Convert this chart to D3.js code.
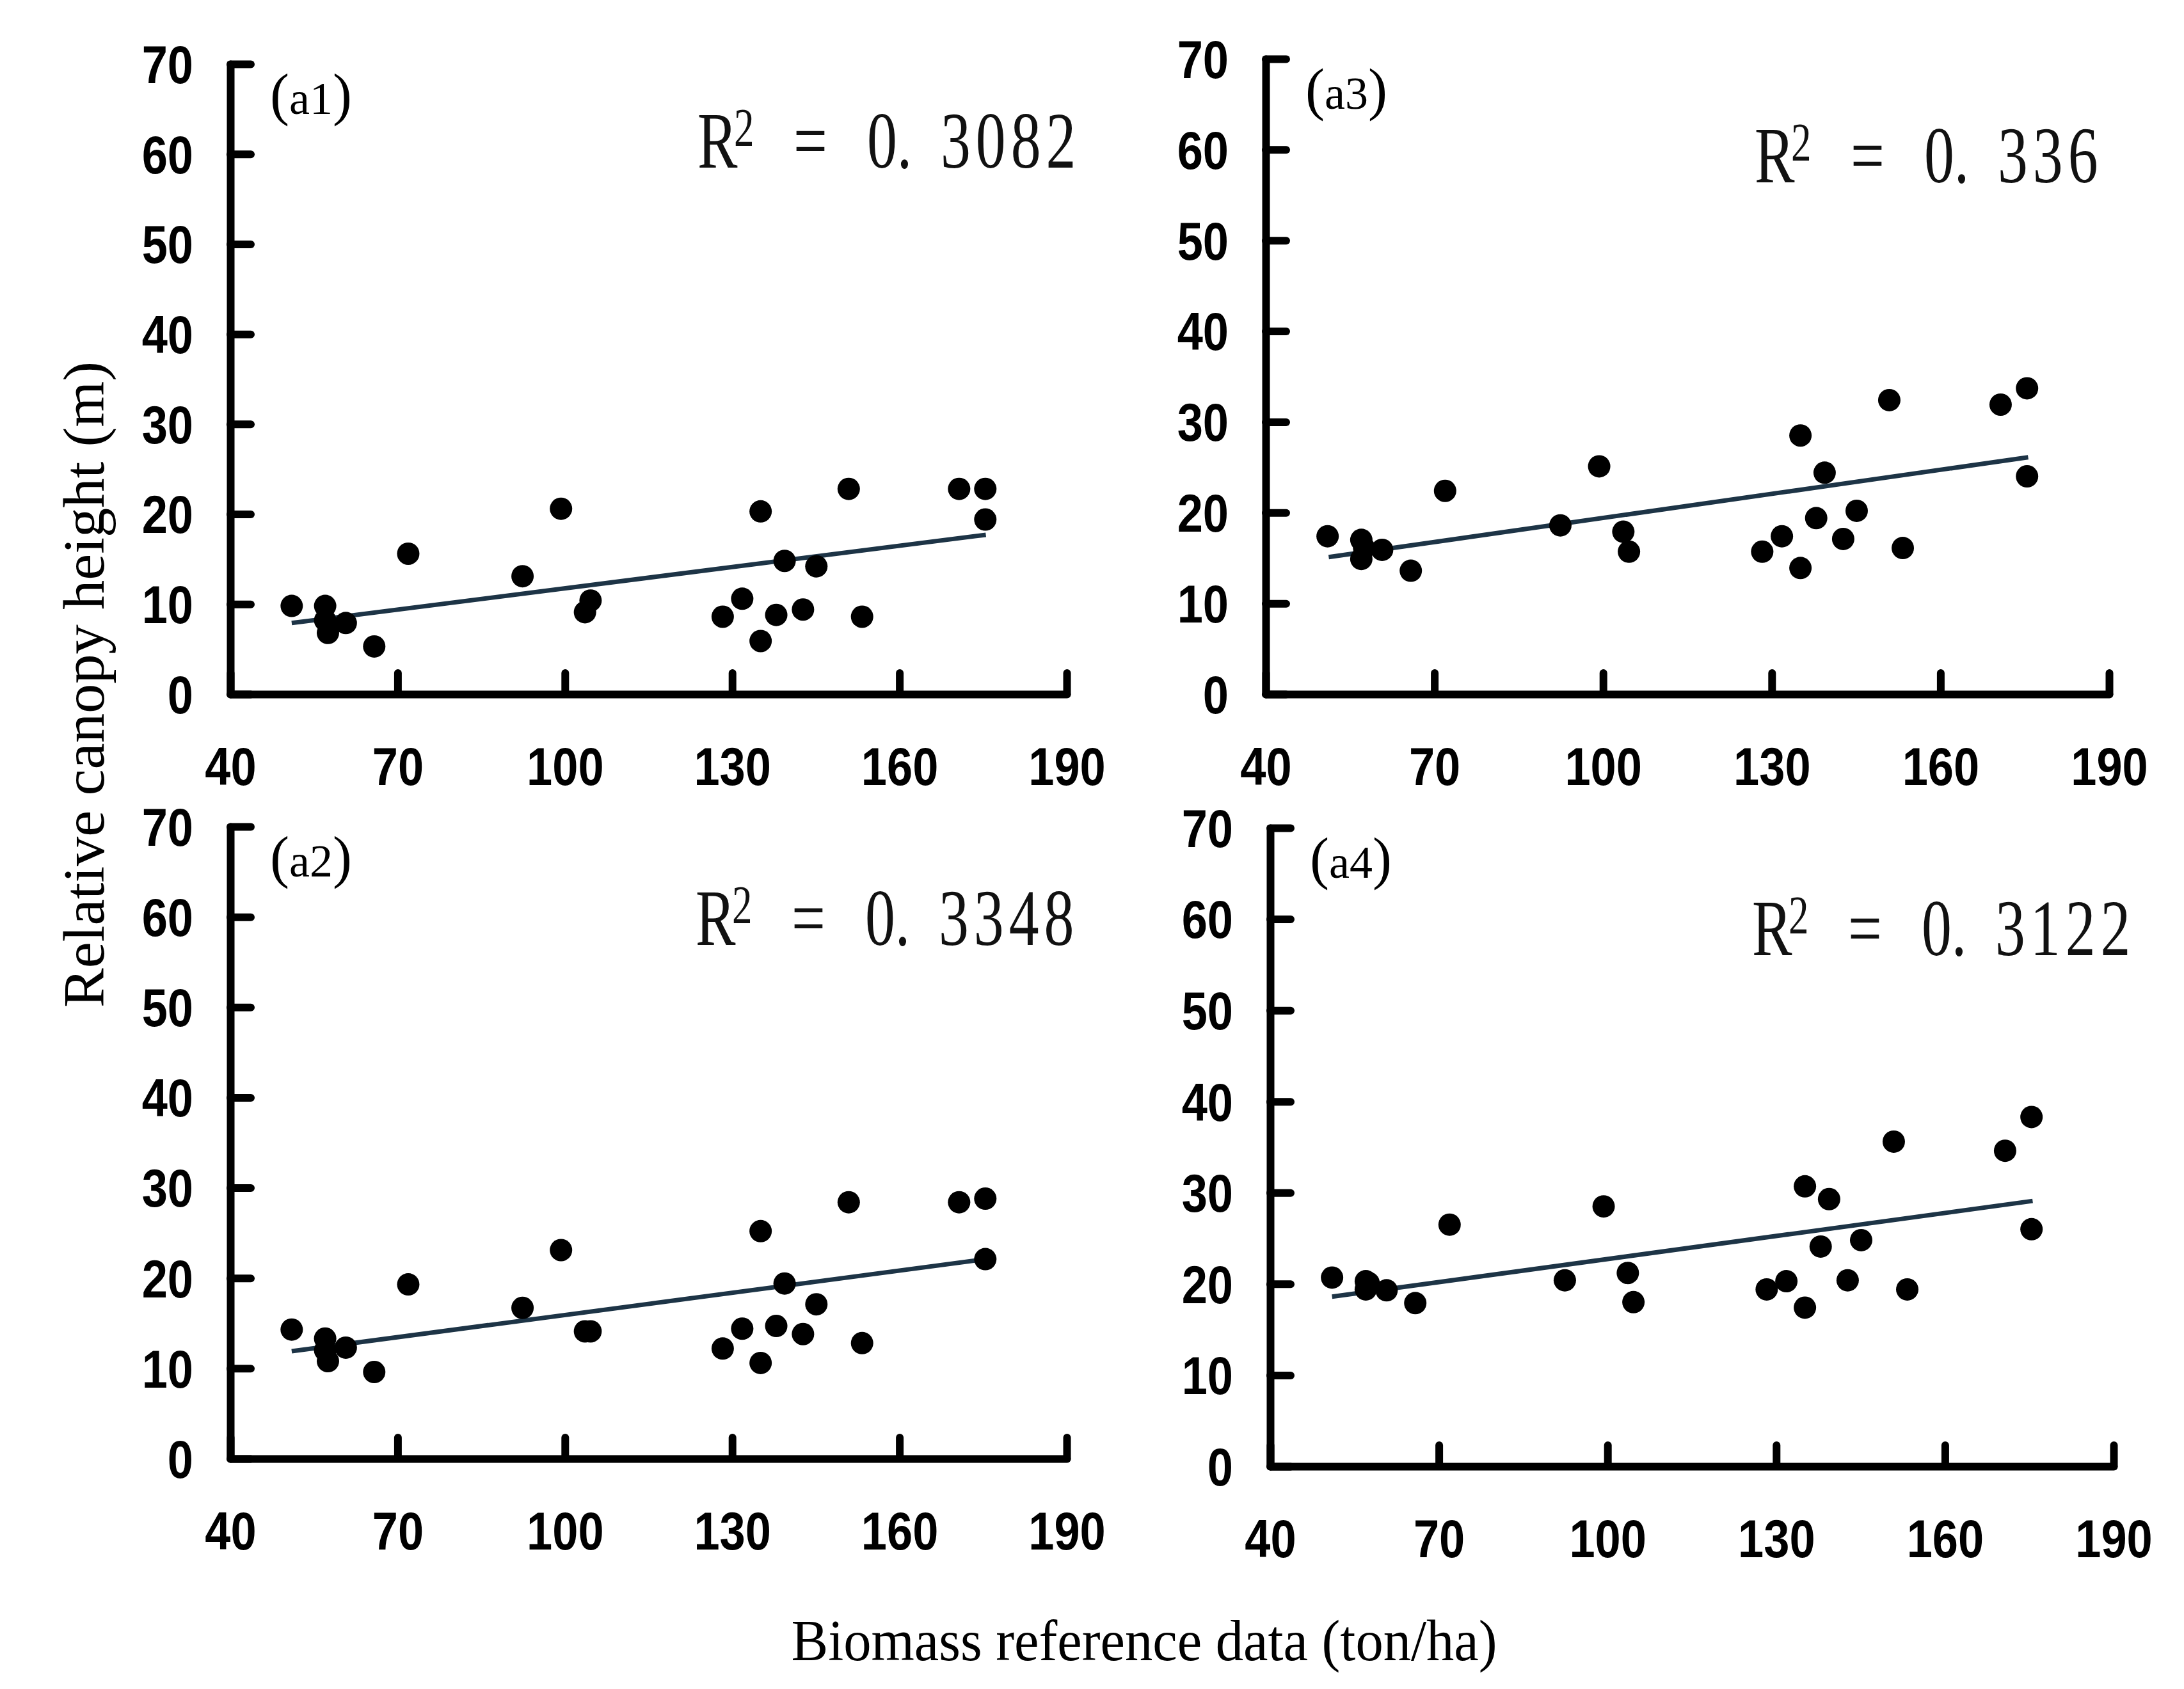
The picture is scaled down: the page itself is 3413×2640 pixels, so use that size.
<!DOCTYPE html>
<html>
<head>
<meta charset="utf-8">
<script src="https://cdn.jsdelivr.net/npm/d3@7"></script>
<style>
  body { margin: 0; background: #fff; }
  svg { display: block; }
</style>
</head>
<body>
<svg id="chart"></svg>
<script>
// biomass reference data (ton/ha), same plots in every panel
const biomass = [51, 57, 57, 57.5, 60.7, 65.8, 71.9, 92.4, 99.3, 103.6, 104.6, 128.3,
                 131.8, 135.1, 135.1, 137.9, 139.4, 142.7, 145.1, 150.9, 153.3, 170.7, 175.4, 175.4];

// relative canopy height (m) per panel
const heightA1 = [9.8, 9.8, 8.2, 6.8, 7.9, 5.3, 15.6, 13.1, 20.6, 9.1, 10.4, 8.6,
                  10.6, 20.3, 5.9, 8.8, 14.8, 9.4, 14.2, 22.8, 8.6, 22.8, 22.8, 19.4];
const heightA2 = [14.3, 13.3, 12.0, 10.8, 12.3, 9.6, 19.3, 16.7, 23.1, 14.1, 14.1, 12.2,
                  14.4, 25.2, 10.6, 14.7, 19.4, 13.8, 17.1, 28.4, 12.8, 28.4, 28.8, 22.1];
const heightA3 = [17.4, 17.0, 14.9, 16.1, 15.9, 13.6, 22.4, 18.6, 25.1, 17.9, 15.7, 15.7,
                  17.4, 28.5, 13.9, 19.4, 24.4, 17.1, 20.2, 32.4, 16.1, 31.9, 33.7, 24.0];
const heightA4 = [20.7, 20.3, 19.4, 20.1, 19.3, 17.9, 26.5, 20.4, 28.5, 21.2, 18.0, 19.4,
                  20.3, 30.7, 17.4, 24.1, 29.3, 20.4, 24.8, 35.6, 19.4, 34.6, 38.3, 26.0];

// trend line end points [biomass, height]
const fitA1 = [[51, 7.9], [175.5, 17.7]];
const fitA2 = [[51, 11.9], [175.5, 22.1]];
const fitA3 = [[51.2, 15.1], [175.6, 26.1]];
const fitA4 = [[51, 18.6], [175.6, 29.1]];

const panelNames = ["a1", "a2", "a3", "a4"];
const r2Values = ["3082", "3348", "336", "3122"];   // shown as "0. xxxx"

const xTicks = [40, 70, 100, 130, 160, 190];
const yTicks = [0, 10, 20, 30, 40, 50, 60, 70];

var width = 3413;
var height = 2640;

var svg = d3.select("#chart")
    .attr("width", width)
    .attr("height", height)
    .attr("viewBox", [0, 0, width, height]);

svg.append("rect").attr("width", width).attr("height", height).attr("fill", "#fff");

const serif = "'Liberation Serif', 'Times New Roman', serif";
const sans = "'Liberation Sans', Arial, sans-serif";
const squeeze = 0.86;   // tick digits are narrow in the original
const r2sq = 0.75;      // the R² font is narrow too

// layout of each panel: [left, right, top, bottom] + R² text placement
const layout = [
  { heights: heightA1, fit: fitA1, box: [360, 1667, 100, 1085],   r2x: 1090, r2y: 262 },
  { heights: heightA2, fit: fitA2, box: [360, 1667, 1292, 2280],  r2x: 1087, r2y: 1477 },
  { heights: heightA3, fit: fitA3, box: [1978, 3296, 92, 1085],   r2x: 2742, r2y: 285 },
  { heights: heightA4, fit: fitA4, box: [1985, 3303, 1294, 2292], r2x: 2738, r2y: 1493 }
];

layout.forEach((p, i) => {
  const [l, r, t, b] = p.box;
  const x = d3.scaleLinear().domain([40, 190]).range([l, r]);
  const y = d3.scaleLinear().domain([0, 70]).range([b, t]);

  const g = svg.append("g");

  // axes, ticks pointing inward
  const gx = g.append("g")
      .attr("transform", `translate(0,${b})`)
      .call(d3.axisBottom(x).tickValues(xTicks).tickSizeInner(-33).tickSizeOuter(0).tickPadding(0));
  const gy = g.append("g")
      .attr("transform", `translate(${l},0)`)
      .call(d3.axisLeft(y).tickValues(yTicks).tickSizeInner(-32).tickSizeOuter(0).tickPadding(0));

  [gx, gy].forEach(a => {
    a.attr("font-size", 84).attr("font-family", sans).attr("font-weight", "bold");
    a.select(".domain").attr("stroke", "#000").attr("stroke-width", 12)
        .attr("stroke-linecap", "round").attr("stroke-linejoin", "round");
    a.selectAll(".tick line").attr("stroke", "#000").attr("stroke-width", 12)
        .attr("stroke-linecap", "round");
    a.selectAll(".tick text").attr("fill", "#000").attr("transform", `scale(${squeeze},1)`);
  });
  gx.selectAll(".tick text").attr("y", 142).attr("dy", null);
  gy.selectAll(".tick text").attr("x", -58 / squeeze).attr("dy", "0.35em");

  // trend line
  g.append("line")
      .attr("x1", x(p.fit[0][0])).attr("y1", y(p.fit[0][1]))
      .attr("x2", x(p.fit[1][0])).attr("y2", y(p.fit[1][1]))
      .attr("stroke", "#1d3446")
      .attr("stroke-width", 7);

  // points
  g.append("g")
    .selectAll("circle")
    .data(biomass.map((v, k) => [v, p.heights[k]]))
    .join("circle")
      .attr("cx", d => x(d[0]))
      .attr("cy", d => y(d[1]))
      .attr("r", 17.5)
      .attr("fill", "#000");

  // panel tag
  const tag = g.append("text")
      .attr("x", l + 62).attr("y", t + 78)
      .attr("font-family", serif).attr("fill", "#000");
  tag.append("tspan").attr("font-size", 90).text("(");
  tag.append("tspan").attr("font-size", 72).text(panelNames[i]);
  tag.append("tspan").attr("font-size", 90).text(")");

  // R² text, pieces placed like the original
  const rt = g.append("g")
      .attr("transform", `translate(${p.r2x},${p.r2y}) scale(${r2sq},1)`)
    .append("text")
      .attr("font-family", serif)
      .attr("font-size", 125)
      .attr("fill", "#111");
  rt.append("tspan").attr("x", 0).text("R");
  rt.append("tspan").attr("x", 57 / r2sq).attr("dy", -34).attr("font-size", 84).text("2");
  rt.append("tspan").attr("x", 150 / r2sq).attr("dy", 34).text("=");
  rt.append("tspan").attr("x", 265 / r2sq).text("0.");
  rt.append("tspan").attr("x", 380 / r2sq).attr("letter-spacing", 8 / r2sq).text(r2Values[i]);
});

// shared axis titles
svg.append("text")
    .attr("transform", "translate(162,1070) rotate(-90)")
    .attr("text-anchor", "middle")
    .attr("font-family", serif)
    .attr("font-size", 90)
    .attr("textLength", 1010)
    .attr("lengthAdjust", "spacingAndGlyphs")
    .text("Relative canopy height (m)");

svg.append("text")
    .attr("x", 1788).attr("y", 2595)
    .attr("text-anchor", "middle")
    .attr("font-family", serif)
    .attr("font-size", 90)
    .attr("textLength", 1103)
    .attr("lengthAdjust", "spacingAndGlyphs")
    .text("Biomass reference data (ton/ha)");
</script>
</body>
</html>
